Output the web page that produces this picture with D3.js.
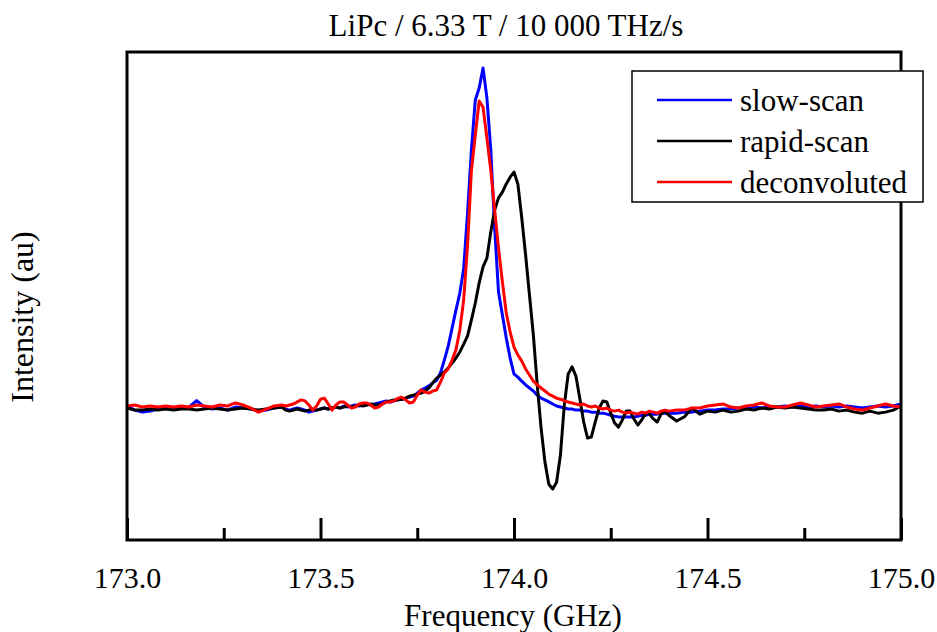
<!DOCTYPE html>
<html>
<head>
<meta charset="utf-8">
<script src="https://cdn.jsdelivr.net/npm/d3@7"></script>
<style>
    body { margin: 0; background: #fff; }
    #chart { width: 937px; height: 632px; }
    svg text { font-family: "Liberation Serif", "Times New Roman", serif; fill: #000; }
</style>
</head>
<body>
<div id="chart"></div>
<script>

// frequency grid (GHz) shared by the three traces
const freq = [
    173.00,173.02,173.04,173.06,173.08,173.10,173.12,173.14,173.16,173.18,
    173.20,173.22,173.24,173.26,173.28,173.30,173.32,173.34,173.36,173.38,173.40,
    173.41,173.42,173.43,173.44,173.45,173.46,173.47,173.48,173.49,173.50,
    173.51,173.52,173.53,173.54,173.55,173.56,173.57,173.58,173.59,173.60,
    173.61,173.62,173.63,173.64,173.65,173.66,173.67,173.68,173.69,173.70,
    173.71,173.72,173.73,173.74,173.75,173.76,173.77,173.78,173.79,173.80,
    173.81,173.82,173.83,173.84,173.85,173.86,173.87,173.88,173.89,173.90,
    173.91,173.92,173.93,173.94,173.95,173.96,173.97,173.98,173.99,174.00,
    174.01,174.02,174.03,174.04,174.05,174.06,174.07,174.08,174.09,174.10,
    174.11,174.12,174.13,174.14,174.15,174.16,174.17,174.18,174.19,174.20,
    174.21,174.22,174.23,174.24,174.25,174.26,174.27,174.28,174.29,174.30,
    174.31,174.32,174.33,174.34,174.35,174.36,174.37,174.38,174.39,174.40,
    174.42,174.44,174.46,174.48,174.50,174.52,174.54,174.56,174.58,174.60,
    174.62,174.64,174.66,174.68,174.70,174.72,174.74,174.76,174.78,174.80,
    174.82,174.84,174.86,174.88,174.90,174.92,174.94,174.96,174.98,175.00
];

const slowScan = [
    0.006,-0.006,-0.012,-0.009,-0.003,0,-0.003,0,0.003,0.022,
    0.003,-0.003,0,-0.006,0.003,0,-0.003,-0.009,-0.006,0,0.003,
    -0.003,-0.006,-0.003,0,-0.003,-0.006,-0.012,-0.009,-0.006,-0.003,
    0,-0.003,0,0.003,0,0.006,0.003,0.006,0.009,0.006,
    0.009,0.012,0.009,0.012,0.015,0.018,0.021,0.018,0.021,0.024,
    0.026,0.029,0.032,0.035,0.044,0.053,0.059,0.065,0.074,0.082,
    0.103,0.141,0.182,0.235,0.288,0.338,0.410,0.575,0.759,0.906,
    0.941,1.000,0.912,0.759,0.530,0.341,0.274,0.206,0.147,0.100,
    0.091,0.079,0.068,0.059,0.050,0.038,0.029,0.024,0.018,0.012,
    0.006,0.003,0,-0.003,-0.003,-0.006,-0.006,-0.009,-0.009,-0.012,
    -0.012,-0.015,-0.015,-0.018,-0.021,-0.024,-0.026,-0.026,-0.026,-0.026,
    -0.026,-0.024,-0.021,-0.021,-0.018,-0.018,-0.018,-0.015,-0.015,-0.015,
    -0.015,-0.012,-0.012,-0.009,-0.006,-0.006,-0.003,-0.003,0,0,
    0.003,0,0.003,0.003,0.006,0.003,0.006,0.003,0.006,0.003,
    0.006,0.003,0.006,0.003,0,0.003,0.006,0.003,0.006,0.012
];

const rapidScan = [
    0,-0.006,-0.006,-0.003,-0.006,-0.003,-0.006,-0.003,-0.003,-0.006,
    -0.003,0,-0.003,-0.006,-0.003,0,-0.003,-0.006,-0.003,0,0.003,
    -0.006,-0.009,-0.006,-0.003,-0.006,-0.009,-0.006,-0.003,-0.006,-0.003,
    0,-0.003,0,0.003,0,0.003,0.006,0.003,0.006,0.009,
    0.006,0.009,0.012,0.009,0.009,0.012,0.018,0.021,0.024,0.024,
    0.026,0.029,0.035,0.038,0.041,0.044,0.050,0.059,0.074,0.088,
    0.097,0.106,0.118,0.132,0.147,0.165,0.188,0.212,0.259,0.309,
    0.368,0.415,0.441,0.518,0.582,0.618,0.635,0.659,0.679,0.694,
    0.659,0.559,0.450,0.332,0.215,0.068,-0.059,-0.159,-0.224,-0.238,
    -0.218,-0.138,0.009,0.100,0.121,0.094,0.029,-0.041,-0.088,-0.085,
    -0.041,0,0.021,0.018,-0.015,-0.044,-0.056,-0.035,-0.009,-0.009,
    -0.032,-0.050,-0.035,-0.015,-0.018,-0.032,-0.041,-0.018,-0.009,-0.021,
    -0.038,-0.026,0,-0.018,-0.009,-0.012,-0.006,-0.012,-0.009,-0.003,
    -0.006,0,-0.003,0.003,0,0.003,0,-0.003,-0.006,-0.006,
    -0.003,-0.009,-0.006,-0.012,-0.015,-0.009,-0.015,-0.012,-0.006,0.006
];

const deconvoluted = [
    0.006,0.009,0.003,0.006,0.003,0.006,0.003,0.006,0.003,0.009,
    0.006,0.003,0.009,0.006,0.015,0.009,0,-0.012,-0.003,0.006,0.009,
    0.006,0.009,0.012,0.018,0.024,0.021,0.009,-0.006,0.006,0.026,
    0.029,0.012,-0.006,0.009,0.018,0.018,0.009,0,0.003,0.012,
    0.015,0.015,0.009,0,0.003,0.012,0.018,0.018,0.021,0.029,
    0.032,0.024,0.015,0.018,0.038,0.053,0.047,0.044,0.050,0.053,
    0.076,0.103,0.115,0.141,0.171,0.229,0.318,0.479,0.700,0.803,
    0.903,0.885,0.794,0.700,0.582,0.470,0.371,0.279,0.224,0.179,
    0.156,0.138,0.115,0.097,0.079,0.068,0.059,0.050,0.041,0.035,
    0.029,0.026,0.021,0.018,0.015,0.012,0.009,0.012,0.006,0.003,
    0.006,0,-0.003,0,-0.006,-0.009,-0.006,-0.012,-0.015,-0.012,
    -0.015,-0.018,-0.012,-0.015,-0.009,-0.012,-0.015,-0.009,-0.006,-0.009,
    -0.006,-0.006,0,0,0.006,0.009,0.012,0.003,0,0.006,
    0.009,0.015,0.006,0.003,0.003,0.009,0.015,0.009,0.003,0.006,
    0.009,0.012,0.003,-0.003,-0.006,0,0.006,0.012,0.006,0.003
];

const seriesNames = ["slow-scan", "rapid-scan", "deconvoluted"];
const seriesColors = ["#0000ff", "#000000", "#ff0000"];
const majorTicks = [173.0, 173.5, 174.0, 174.5, 175.0];
const minorTicks = [173.25, 173.75, 174.25, 174.75];

class SpectrumVis {

    constructor(parentElement) {
        this.parentElement = parentElement;
        this.initVis();
    }

    initVis() {
        let vis = this;

        vis.margin = {top: 52, right: 36, bottom: 92, left: 127};
        vis.width = 937 - vis.margin.left - vis.margin.right;
        vis.height = 632 - vis.margin.top - vis.margin.bottom;

        vis.root = d3.select("#" + vis.parentElement).append("svg")
            .attr("width", 937)
            .attr("height", 632);

        vis.svg = vis.root.append("g")
            .attr("transform", "translate(" + vis.margin.left + "," + vis.margin.top + ")");

        // scales
        vis.x = d3.scaleLinear().domain([173, 175]).range([0, vis.width]);
        vis.y = d3.scaleLinear().domain([-0.388, 1.047]).range([vis.height, 0]);

        // title
        vis.root.append("text")
            .attr("x", 506).attr("y", 36)
            .attr("text-anchor", "middle")
            .attr("font-size", "31px")
            .text("LiPc / 6.33 T / 10 000 THz/s");

        // axis labels
        vis.root.append("text")
            .attr("x", 513).attr("y", 626)
            .attr("text-anchor", "middle")
            .attr("font-size", "31px")
            .text("Frequency (GHz)");

        vis.root.append("text")
            .attr("transform", "translate(33,317) rotate(-90)")
            .attr("text-anchor", "middle")
            .attr("font-size", "32px")
            .text("Intensity (au)");

        vis.updateVis();
    }

    updateVis() {
        let vis = this;

        // traces
        let traces = [slowScan, rapidScan, deconvoluted];
        let line = d3.line()
            .x((d, i) => vis.x(freq[i]))
            .y(d => vis.y(d));

        vis.svg.selectAll(".trace")
            .data(traces)
            .enter().append("path")
            .attr("class", "trace")
            .attr("d", d => line(d))
            .attr("fill", "none")
            .attr("stroke", (d, i) => seriesColors[i])
            .attr("stroke-width", 3)
            .attr("stroke-linejoin", "round");

        // inner ticks on the bottom axis
        let xAxis = d3.axisBottom(vis.x)
            .tickValues(majorTicks)
            .tickSize(-22)
            .tickPadding(27)
            .tickFormat(d3.format(".1f"));

        let xMinor = d3.axisBottom(vis.x)
            .tickValues(minorTicks)
            .tickSize(-12)
            .tickFormat("");

        let gx = vis.svg.append("g")
            .attr("transform", "translate(0," + vis.height + ")")
            .call(xAxis);
        gx.select(".domain").remove();
        gx.selectAll("line").attr("stroke-width", 3);
        gx.selectAll("text").attr("font-size", "30px");

        let gm = vis.svg.append("g")
            .attr("transform", "translate(0," + vis.height + ")")
            .call(xMinor);
        gm.select(".domain").remove();
        gm.selectAll("line").attr("stroke-width", 3);

        // frame
        vis.svg.append("rect")
            .attr("x", 0).attr("y", 0)
            .attr("width", vis.width).attr("height", vis.height)
            .attr("fill", "none")
            .attr("stroke", "#000")
            .attr("stroke-width", 3);

        // legend
        let legend = vis.root.append("g").attr("transform", "translate(632,71)");
        legend.append("rect")
            .attr("width", 291).attr("height", 131)
            .attr("fill", "#fff")
            .attr("stroke", "#000")
            .attr("stroke-width", 1.5);

        let rows = legend.selectAll(".legendRow")
            .data(seriesNames)
            .enter().append("g")
            .attr("class", "legendRow")
            .attr("transform", (d, i) => "translate(0," + (29 + i * 41) + ")");

        rows.append("line")
            .attr("x1", 25).attr("x2", 100)
            .attr("stroke", (d, i) => seriesColors[i])
            .attr("stroke-width", 2.5);

        rows.append("text")
            .attr("x", 108).attr("y", 11)
            .attr("font-size", "31px")
            .text(d => d);
    }
}

new SpectrumVis("chart");
</script>
</body>
</html>
